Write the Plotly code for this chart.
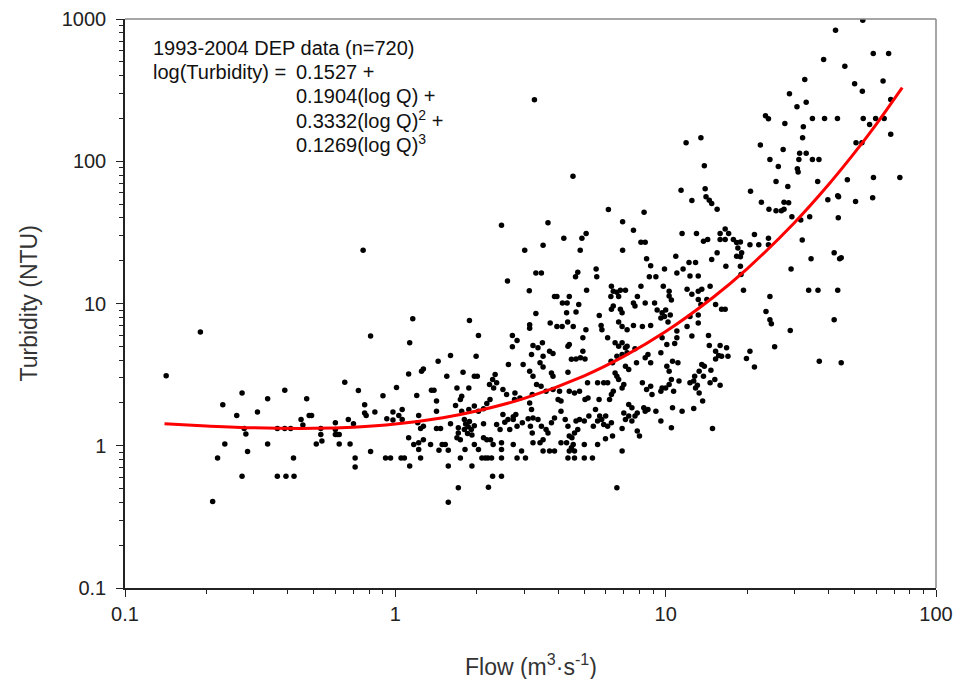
import plotly.graph_objects as go

obs_low = [(0.142,3.1),(0.19,6.3),(0.211,0.405),(0.22,0.82),(0.23,1.94),(0.234,1.03),(0.259,1.63),(0.271,2.35),(0.271,0.61),(0.276,1.32),(0.28,1.21),(0.284,0.91),(0.309,1.73),(0.337,2.14),(0.337,1.03),(0.366,0.61),(0.394,0.61),(0.422,0.61),(0.366,1.32),(0.39,1.32),(0.41,1.32),(0.39,2.46),(0.42,0.82),(0.448,1.53),(0.455,1.4),(0.47,2.14),(0.48,1.63),(0.49,1.63),(0.51,1.03),(0.53,1.32),(0.53,1.2),(0.535,1.08),(0.6,1.45),(0.6,1.3),(0.6,1.2),(0.61,1.2),(0.62,1.2),(0.62,1.03),(0.68,1.03),(0.65,2.8),(0.67,1.53),(0.7,1.43),(0.71,0.82),(0.71,0.71),(0.73,2.45),(0.76,23.7),(0.77,1.94),(0.77,1.7),(0.78,1.63),(0.81,5.9),(0.81,0.91),(0.84,1.73),(0.9,2.25),(0.92,0.82),(0.96,0.82),(0.98,1.73),(0.98,1.52),(1.01,2.57)]

obs_1to3 = [(1.16,7.8),(1.88,7.6),(2.47,35.5),(3.01,23.7),(3.31,16.4),(2.6,14.4),(3.13,12.3),(3.31,8.5),(3.14,7.1),(3.14,6.7),(3.27,271),
(1.13,5.3),(2.03,5.96),(2.71,5.96),(2.82,5.5),(2.71,4.96),(3.23,5.06),(1.6,4.31),(1.99,4.26),(1.44,3.93),(3.19,4.38),(1.27,3.47),(1.25,3.34),(1.12,3.2),(1.55,3.08),(1.78,3.29),(1.96,3.08),(2.01,3.08),(2.34,3.17),(2.29,2.92),(2.23,2.7),(2.37,2.77),(2.31,2.55),(2.62,3.73),(2.97,3.73),(3.14,3.34),(3.23,3.08),(1.36,2.46),(1.39,2.46),(1.69,2.55),(1.87,2.55),(1.2,2.26),(1.42,2.06),(1.76,2.23),(1.74,2.11),(2.5,2.49),(2.58,2.29),(2.77,2.35),(2.89,2.17),(2.76,2.11),(3.21,2.29),(3.14,2.0),(1.06,1.8),(1.22,1.63),(1.42,1.75),(1.67,1.92),(1.76,1.75),(1.87,1.8),(1.96,1.9),(2.03,1.75),(2.12,1.82),(2.18,1.98),(2.24,2.11),(2.5,1.66),(2.61,1.53),(2.73,1.6),(2.79,1.66),(3.19,1.8),(3.23,1.57),(0.93,1.55),(1.03,1.63),(1.06,1.53),(1.21,1.45),(1.24,1.32),(1.27,1.37),(1.42,1.32),(1.47,1.32),(1.6,1.43),(1.71,1.34),(1.8,1.53),(1.82,1.42),(1.86,1.36),(1.88,1.48),(1.91,1.3),(1.96,1.38),(1.8,1.3),(1.85,1.22),(1.92,1.19),(2.12,1.43),(2.37,1.41),(2.44,1.3),(2.54,1.46),(2.65,1.3),(2.73,1.53),(2.82,1.37),(2.95,1.45),(3.1,1.55),(3.16,1.37),(3.21,1.23),(1.12,1.14),(1.17,1.02),(1.22,1.05),(1.27,1.1),(1.35,1.02),(1.22,0.94),(1.24,0.82),(1.45,0.93),(1.49,1.02),(1.53,1.02),(1.57,0.93),(1.69,1.14),(1.71,1.23),(1.74,1.1),(1.81,0.94),(1.96,1.02),(2.03,0.94),(2.12,1.14),(2.18,1.1),(2.25,1.1),(2.3,1.02),(2.47,1.05),(2.47,0.94),(2.73,1.02),(2.93,0.92),(3.23,1.05),(1.05,0.82),(1.08,0.82),(1.74,0.82),(2.09,0.82),(2.15,0.82),(2.2,0.82),(2.27,0.82),(2.47,0.82),(2.82,0.82),(3.03,0.82),(1.13,0.72),(1.57,0.72),(1.92,0.72),(2.29,0.61),(2.47,0.61),(1.71,0.506),(2.21,0.51),(1.57,0.40)]

obs_3to10 = [(4.54,78.5),(11.4,62.6),(3.67,36.9),(6.14,45.8),(8.32,43.8),(6.93,37.5),(7.6,32.7),(3.52,25.7),(4.2,28.7),(4.9,28.7),(5.08,31),(4.83,23.7),(6.93,23.7),(8.1,27),(8.4,27),(11.5,31),(10.9,21.5),(8.5,20.6),(8.8,18.4),(9.9,17.5),(11.6,17.5),(3.47,16.4),(4.73,16.6),(4.64,15.4),(5.53,17.5),(5.56,15.4),(8.7,15.4),(9.2,15.4),(5.1,12.4),(6.3,13.2),(6.4,12.2),(6.6,12.0),(6.8,12.4),(7.1,12.4),(6.27,11.2),(6.7,11.2),(8.1,13.2),(9.8,13.2),(10.3,12.2),(10.3,11.3),(10.5,10.6),(3.88,11.2),(3.96,11.2),(4.4,11.2),(4.15,10.1),(4.32,10.1),(4.77,9.85),(7.86,11.2),(7.6,10.1),(7.7,9.6),(8.4,10.1),(9.1,10.1),(9.3,9.0),(9.7,8.6),(9.9,8.1),(9.6,7.9),(10.0,9.0),(10.4,8.3),(10.2,7.4),(6.4,9.6),(6.3,9.1),(6.8,9.1),(6.9,8.6),(4.3,8.6),(4.66,8.7),(5.68,8.25),(3.74,7.3),(3.96,6.9),(4.14,6.9),(4.34,7.4),(4.55,6.9),(5.77,7.0),(6.7,7.4),(6.9,6.9),(7.6,7.0),(8.2,6.9),(8.8,7.0),
(5.07,6.55),(5.81,6.55),(7.2,6.55),(3.5,5.3),(3.37,4.88),(3.72,4.62),(3.83,4.45),(3.52,4.26),(3.43,3.83),(4.35,5.0),(4.4,5.15),(4.94,5.74),(4.48,4.05),(4.66,4.08),(4.84,4.15),(5.03,4.08),(4.94,4.62),(6.1,5.74),(6.5,5.3),(6.7,5.0),(6.9,5.3),(7.1,4.88),(7.2,5.0),(7.7,4.8),(6.36,3.83),(6.28,3.93),(6.6,4.26),(6.9,4.38),(7.2,4.5),(7.8,3.83),(8.4,4.15),(8.6,4.38),(8.8,3.83),(9.6,4.5),(9.7,5.74),(10.1,5.15),(10.8,5.24),(11,5.74),(10.6,3.93),(10.1,3.62),(10.3,3.34),(11.1,3.83),(3.52,3.58),(3.78,3.25),(3.83,3.08),(4.35,3.29),(3.33,2.7),(3.46,2.62),(3.61,2.42),(3.83,2.49),(4.05,2.42),(4.0,2.11),(4.1,2.06),(4.4,2.42),(4.6,2.35),(4.8,2.42),(5.14,2.77),(5.03,2.11),(5.16,2.17),(5.6,2.77),(5.9,2.77),(6.1,2.77),(5.67,2.11),(6.2,2.11),(6.3,2.29),(6.4,2.42),(6.5,3.25),(6.6,3.08),(6.7,2.92),(6.9,2.55),(7.0,2.7),(7.1,3.62),(7.3,3.44),(7.5,1.85),(7.3,1.95),(7.0,1.7),(8.2,2.77),(8.5,2.49),(8.8,2.62),(8.9,2.29),(9.6,2.42),(9.7,2.55),(10,2.55),(10.3,2.7),(10.5,2.92),(11.2,2.85),(10.7,2.42),(10.6,1.85),(11.5,1.75),(10.5,1.34),(8.3,1.85),(8.4,1.75),(8.6,1.8),(9.2,1.75),(7.85,1.7),(7.7,1.62),(7.3,1.62),(7.1,1.53),(7.5,1.49),(9.6,1.49),(7.85,1.27),(8.0,1.17),(6.9,1.32),(6.36,1.17),(5.99,1.12),(5.8,1.53),(5.9,1.41),(6.0,1.62),(6.1,1.37),(6.3,1.45),(5.5,1.8),(5.7,1.62),(5.6,1.49),(5.2,1.62),(5.4,1.37),(5.0,1.49),(4.8,1.53),(4.66,1.49),(4.73,1.3),(4.6,1.23),(4.4,1.17),(4.5,1.14),(4.25,1.53),(4.1,1.75),(4.35,1.37),(3.88,1.57),(3.78,1.45),(3.61,1.3),(3.47,1.37),(3.37,1.53),(3.52,1.1),(3.43,1.05),(3.67,1.23),(4.1,1.05),(4.3,1.05),(4.48,0.97),(4.55,1.02),(3.52,0.92),(3.72,0.92),(3.88,0.92),(4.35,0.82),(4.6,0.82),(5.0,0.82),(5.36,0.82),(4.4,0.92),(4.6,0.92),(5.0,1.02),(5.6,1.02),(6.9,0.92),(6.6,0.506)]

obs_high = [(12.5,5.9),(14.4,5.96),(14.5,5.06),(15.9,5.06),(16.8,4.88),(15.3,4.62),(15.7,4.31),(16.1,4.26),(15.3,4.08),(17.0,4.26),(20.5,4.62),(19.9,4.1),(21.3,3.58),(25.3,4.96),(28.9,6.45),(37.0,3.93),(13.6,3.73),(13.9,3.62),(13.3,3.34),(14.7,3.4),(13.8,3.08),(12.8,3.08),(12.7,2.85),(12.3,2.77),(13.1,2.66),(12.9,2.55),(13.3,2.35),(15.2,2.92),(14.6,2.77),(15.9,2.66),(13.7,2.06),(12.7,1.83),(14.9,1.32),
(53.6,981),(42.5,834),(38.4,519),(58.6,572),(66.8,572),(46.0,466),(32.7,376),(50.0,351),(53.4,311),(63.7,366),(28.7,298),(30.6,242),(33.1,260),(68,272),(23.4,209),(24.0,199),(27.6,184),(32.3,175),(34.9,200),(38.7,200),(43.2,200),(53.8,200),(59.8,200),(64.3,200),(56.8,181),(32.1,146),(50.6,135),(53.2,135),(68,155),(22.4,130),(27.2,121),(31.3,114),(33.1,114),(34.9,103),(36.9,103),(31.1,103),(24.3,103),(26.1,92),(30.7,88.5),(30.9,84),(13.9,93),(11.9,135),(13.5,146),(25.6,72),(28.3,66.5),(36.5,72),(47.0,74),(58.7,77),(73.5,77),(12.5,53),(14.0,64.1),(14.1,56.3),(14.5,53.1),(14.8,50.4),(15.5,46.0),(20.6,61.6),(22.6,51.5),(24.1,46),(25.6,44.8),(26.8,44.8),(27.4,46),(28.5,51.1),(27.4,51.5),(29.3,40.8),(31.6,38.6),(34.1,40.8),(39.8,53.7),(43.3,57.3),(43.6,56.2),(50.4,52.2),(58.3,55.3),(43.5,40.0),(32.0,27.9),(34.5,20.6),(44,20.6),(44.6,21),(42.0,22.7),(29.1,17.5),(33.8,12.4),(36.6,12.4),(43.3,12.4),(42,7.7),(44.6,3.83),(24.3,11.2),(23.5,8.8),(24.3,7.7),(24.6,7.2),
(13.0,31),(13.8,27.4),(14.3,28.2),(15.9,31),(16.6,33.4),(17.1,31),(15.9,28.2),(16.6,28.2),(17.8,28.2),(18.3,26.8),(18.9,27.1),(18.5,24.6),(19.1,22.7),(18.3,21.5),(18.9,21.3),(20.5,25.9),(21.3,30.6),(22.1,25.9),(24.0,25.9),(24.0,28.8),(11.0,16.4),(12.9,19.4),(12.2,19.4),(12.3,15.6),(13.2,15.6),(14.8,20.4),(15.5,22.7),(14.6,13.2),(16.7,18.3),(18.9,18.3),(19.0,16.0),(19.4,12.4),(12.0,12.6),(12.5,11.6),(13.2,12.2),(13.6,12.6),(14.2,10.65),(13.2,10.65),(13.5,9.85),(15.3,9.85),(16.1,9.1),(16.6,9.1),(13.2,7.3),(13.2,8.3),(12.3,8.1),(12.0,6.9),(11.0,6.4)]

# Fitted cubic (log-log) curve, sampled values
fit_flow = [0.14, 0.2, 0.3, 0.5, 0.7, 1, 1.5, 2, 3, 5, 7, 10, 15, 20, 30, 40, 50, 60, 75]
fit_turb = [1.426, 1.377, 1.337, 1.325, 1.351, 1.421, 1.575, 1.753, 2.154, 3.104, 4.248, 6.356, 11.07, 17.53, 37.15, 68.35, 114.9, 181.2, 329.4]

x_tickvals = [0.1, 1, 10, 100]
x_ticktext = ["0.1", "1", "10", "100"]
y_tickvals = [0.1, 1, 10, 100, 1000]
y_ticktext = ["0.1", "1", "10", "100", "1000"]

eq_left = ["1993-2004 DEP data (n=720)", "log(Turbidity) ="]
eq_right = ["0.1527 +", "0.1904(log Q) +", "0.3332(log Q)<sup>2</sup> +", "0.1269(log Q)<sup>3</sup>"]

obs = obs_low + obs_1to3 + obs_3to10 + obs_high
flow = [p[0] for p in obs]
turb = [p[1] for p in obs]

FONT = "Liberation Sans, Arial, sans-serif"
W, H = 946, 671
ML, MR, MT, MB = 117, 18, 11, 91
PW, PH = W - ML - MR, H - MT - MB

fig = go.Figure()
fig.add_trace(go.Scatter(x=flow, y=turb, mode="markers",
                         marker=dict(color="black", size=5.5, line=dict(width=0)),
                         showlegend=False, hoverinfo="skip"))
fig.add_trace(go.Scatter(x=fit_flow, y=fit_turb, mode="lines",
                         line=dict(color="#ff0000", width=3, shape="spline"),
                         showlegend=False, hoverinfo="skip"))

minor_vals = [m * 10 ** e for e in range(-1, 3) for m in range(2, 10)]

axis_common = dict(showgrid=False, zeroline=False, showline=True, linecolor="#222",
                   linewidth=1.5, ticks="outside", ticklen=7, tickwidth=1.2,
                   tickcolor="#222", automargin=False, ticklabeloverflow="allow",
                   tickfont=dict(family=FONT, size=20, color="#222"))

fig.update_xaxes(type="log", range=[-1, 2], tickvals=x_tickvals, ticktext=x_ticktext,
                 minor=dict(tickvals=minor_vals, ticks="outside", ticklen=4, tickcolor="#222"),
                 **axis_common)
fig.update_yaxes(type="log", range=[-1, 3], tickvals=y_tickvals, ticktext=y_ticktext,
                 minor=dict(tickvals=minor_vals, ticks="outside", ticklen=4, tickcolor="#222"),
                 ticklabelstandoff=6, **axis_common)

# axis titles
fig.add_annotation(text="Flow (m<sup>3</sup>·s<sup>-1</sup>)", xref="paper", yref="paper",
                   x=0.5, y=-77 / PH, xanchor="center", yanchor="middle", showarrow=False,
                   font=dict(family=FONT, size=23, color="#333"))
fig.add_annotation(text="Turbidity (NTU)", xref="paper", yref="paper",
                   x=-(ML - 20) / PW, y=0.5, textangle=-90,
                   xanchor="center", yanchor="middle", showarrow=False,
                   font=dict(family=FONT, size=23, color="#333"))

# top and right frame lines (lighter grey)
fig.add_shape(type="line", xref="paper", yref="paper", x0=0, x1=1, y0=1, y1=1,
              line=dict(color="#888", width=1.5))
fig.add_shape(type="line", xref="paper", yref="paper", x0=1, x1=1, y0=0, y1=1,
              line=dict(color="#888", width=1.5))

line_y = [0.949, 0.907, 0.865, 0.823, 0.781]
for i, t in enumerate(eq_left):
    fig.add_annotation(text=t, xref="paper", yref="paper", x=0.032, y=line_y[i],
                       xanchor="left", yanchor="middle", showarrow=False,
                       font=dict(family=FONT, size=20, color="#111"))
for i, t in enumerate(eq_right):
    fig.add_annotation(text=t, xref="paper", yref="paper", x=0.209, y=line_y[i + 1],
                       xanchor="left", yanchor="middle", showarrow=False,
                       font=dict(family=FONT, size=20, color="#111"))

fig.update_layout(width=W, height=H, plot_bgcolor="white", paper_bgcolor="white",
                  margin=dict(l=ML, r=MR, t=MT, b=MB))

fig.write_html("out.html")
